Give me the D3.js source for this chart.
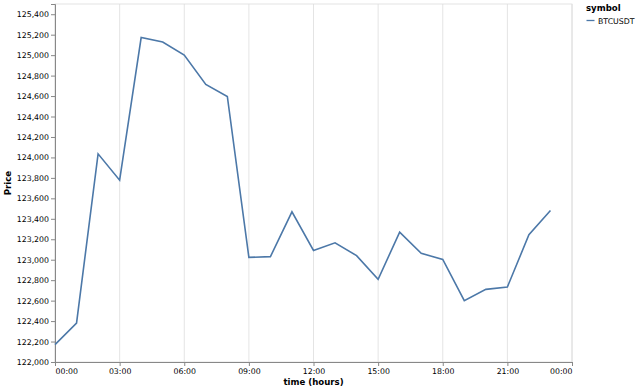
<!DOCTYPE html>
<html>
<head>
<meta charset="utf-8">
<script src="https://cdn.jsdelivr.net/npm/d3@7"></script>
<style>
  body { margin: 0; background: #fff; }
  text { font-family: "DejaVu Sans", sans-serif; }
</style>
</head>
<body>
<div id="chart"></div>
<script>
// hourly closes
const hours = [0, 1, 2, 3, 4, 5, 6, 7, 8, 9, 10, 11, 12, 13, 14, 15, 16, 17, 18, 19, 20, 21, 22, 23]
const prices = [122170, 122380, 124035, 123778, 125172, 125129, 125000, 124713, 124596, 123023,
                123030, 123468, 123090, 123165, 123040, 122808, 123270, 123062, 123003, 122599,
                122710, 122733, 123244, 123482]
const symbols = ["BTCUSDT"]
const yTicks = d3.range(122000, 125401, 200)
const xTickHours = [0, 3, 6, 9, 12, 15, 18, 21, 24]

const WIDTH = 640
const HEIGHT = 391
const MARGINS = {left: 55, right: 68, top: 4, bottom: 29}
const LINE_COLOR = "#4c78a8"
const LABEL_SIZE = 7.8
const TITLE_SIZE = 8.6

const day = (h) => new Date(Date.UTC(2025, 9, 6, h))

const svg = d3.select("#chart")
  .append("svg")
  .attr("width", WIDTH)
  .attr("height", HEIGHT)

const plotW = WIDTH - MARGINS.left - MARGINS.right
const plotH = HEIGHT - MARGINS.top - MARGINS.bottom

const x = d3.scaleUtc()
  .domain([day(0), day(24)])
  .range([0, plotW])
const y = d3.scaleLinear()
  .domain([122000, 125500])
  .range([plotH, 0])

const g = svg.append("g")
  .attr("transform", `translate(${MARGINS.left},${MARGINS.top})`)

// frame + grid
g.append("rect")
  .attr("width", plotW).attr("height", plotH)
  .attr("fill", "none").attr("stroke", "#ddd").attr("stroke-width", 0.8)

g.append("g").selectAll("line")
  .data(xTickHours).enter()
  .append("line")
  .attr("x1", (h) => x(day(h))).attr("x2", (h) => x(day(h)))
  .attr("y1", 0).attr("y2", plotH)
  .attr("stroke", "#ddd").attr("stroke-width", 0.8)

// axes
const xAxis = g.append("g")
  .attr("transform", `translate(0,${plotH})`)
  .call(d3.axisBottom(x).tickValues(xTickHours.map(day)).tickFormat(d3.utcFormat("%H:%M")).tickSize(4).tickPadding(2))
const yAxis = g.append("g")
  .call(d3.axisLeft(y).tickValues(yTicks).tickFormat(d3.format(",")).tickSize(4).tickPadding(2))

for (const ax of [xAxis, yAxis]) {
  ax.select(".domain").attr("stroke", "#888")
  ax.selectAll(".tick line").attr("stroke", "#888")
  ax.selectAll(".tick text").attr("font-size", LABEL_SIZE).attr("fill", "#000")
    .attr("font-family", "DejaVu Sans, sans-serif")
}

// flush the end labels of the time axis inside the plot
const xLabels = xAxis.selectAll(".tick text")
xLabels.filter((_, i) => i === 0).attr("text-anchor", "start")
xLabels.filter((_, i, n) => i === n.length - 1).attr("text-anchor", "end")

svg.append("text")
  .text("time (hours)")
  .attr("x", MARGINS.left + plotW / 2).attr("y", 385)
  .attr("text-anchor", "middle")
  .attr("font-weight", "bold").attr("font-size", TITLE_SIZE)

svg.append("text")
  .text("Price")
  .attr("transform", `translate(11,${MARGINS.top + plotH / 2}) rotate(-90)`)
  .attr("text-anchor", "middle")
  .attr("font-weight", "bold").attr("font-size", TITLE_SIZE)

// line
const line = d3.line()
  .x((d) => x(day(d[0])))
  .y((d) => y(d[1]))

g.append("path")
  .datum(d3.zip(hours, prices))
  .attr("fill", "none")
  .attr("stroke", LINE_COLOR)
  .attr("stroke-width", 1.6)
  .attr("d", line)

// legend
const legend = svg.append("g").attr("transform", "translate(586,0)")
legend.append("text")
  .text("symbol")
  .attr("x", 0).attr("y", 11)
  .attr("font-weight", "bold").attr("font-size", TITLE_SIZE)
legend.selectAll("g.item")
  .data(symbols).enter()
  .append("g")
  .classed("item", true)
  .attr("transform", (_, i) => `translate(0,${23.5 + i * 12})`)
  .each(function(d) {
    const it = d3.select(this)
    it.append("line").attr("x1", 0.5).attr("x2", 8.5).attr("y1", -3).attr("y2", -3)
      .attr("stroke", LINE_COLOR).attr("stroke-width", 1.3)
    it.append("text").text(d).attr("x", 12).attr("y", 0).attr("font-size", LABEL_SIZE)
  })
</script>
</body>
</html>
